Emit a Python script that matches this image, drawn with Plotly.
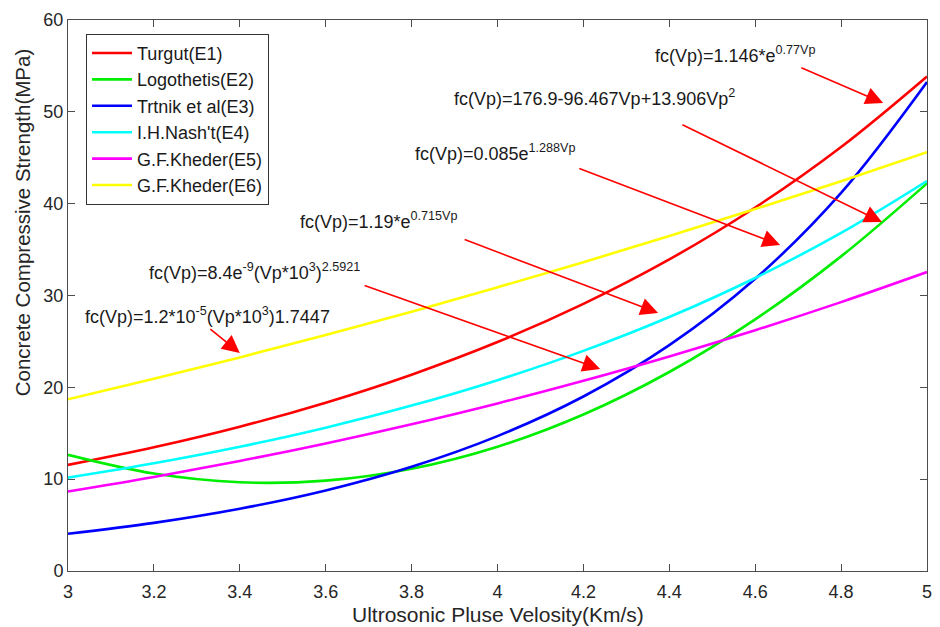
import plotly.graph_objects as go

# Ultrasonic pulse velocity (km/s)
vp = [3.0, 3.2, 3.4, 3.6, 3.8, 4.0, 4.2, 4.4, 4.6, 4.8, 5.0]

# Compressive strength (MPa)
turgut_e1 = [11.55, 13.47, 15.71, 18.33, 21.38, 24.93, 29.09, 33.93, 39.58, 46.17, 53.85]
logothetis_e2 = [12.65, 10.61, 9.66, 9.84, 11.13, 13.53, 17.04, 21.67, 27.40, 34.26, 42.21]
trtnik_e3 = [4.05, 5.24, 6.78, 8.77, 11.35, 14.69, 19.00, 24.59, 31.82, 41.17, 53.24]
nasht_e4 = [10.17, 11.73, 13.53, 15.61, 18.01, 20.78, 23.97, 27.66, 31.91, 36.82, 42.47]
kheder_e5 = [8.66, 10.24, 11.98, 13.89, 15.98, 18.25, 20.72, 23.37, 26.22, 29.28, 32.55]
kheder_e6 = [18.70, 20.93, 23.26, 25.70, 28.24, 30.89, 33.63, 36.47, 39.41, 42.45, 45.60]

series_names = ["Turgut(E1)", "Logothetis(E2)", "Trtnik et al(E3)",
                "I.H.Nash't(E4)", "G.F.Kheder(E5)", "G.F.Kheder(E6)"]
series_values = [turgut_e1, logothetis_e2, trtnik_e3, nasht_e4, kheder_e5, kheder_e6]
series_colors = ["#ff0000", "#00ee00", "#0000ff", "#00ffff", "#ff00ff", "#ffff00"]

x_ticks = [3, 3.2, 3.4, 3.6, 3.8, 4, 4.2, 4.4, 4.6, 4.8, 5]
x_tick_labels = ["3", "3.2", "3.4", "3.6", "3.8", "4", "4.2", "4.4", "4.6", "4.8", "5"]
y_ticks = [0, 10, 20, 30, 40, 50, 60]

x_title = "Ultrosonic Pluse Velosity(Km/s)"
y_title = "Concrete Compressive Strength(MPa)"

# Equation labels: (text, text_x, text_y, arrow_tail_x, arrow_tail_y, arrow_head_x, arrow_head_y)
equations = [
    ("fc(Vp)=1.146*e<sup>0.77Vp</sup>", 4.361, 56.2, 4.704, 54.88, 4.898, 50.96),
    ("fc(Vp)=176.9-96.467Vp+13.906Vp<sup>2</sup>", 3.894, 51.6, 4.427, 48.68, 4.895, 38.0),
    ("fc(Vp)=0.085e<sup>1.288Vp</sup>", 3.803, 45.6, 4.187, 43.89, 4.658, 35.5),
    ("fc(Vp)=1.19*e<sup>0.715Vp</sup>", 3.535, 38.2, 3.920, 36.15, 4.374, 28.1),
    ("fc(Vp)=8.4e<sup>-9</sup>(Vp*10<sup>3</sup>)<sup>2.5921</sup>", 3.184, 32.6, 3.687, 31.14, 4.239, 22.0),
    ("fc(Vp)=1.2*10<sup>-5</sup>(Vp*10<sup>3</sup>)1.7447", 3.035, 27.8, 3.328, 26.46, 3.400, 23.74),
]

FONT = "Liberation Sans, Arial, sans-serif"
AXIS_COLOR = "#4d4d4d"

fig = go.Figure()
for name, vals, col in zip(series_names, series_values, series_colors):
    fig.add_trace(go.Scatter(
        x=vp, y=vals, mode="lines", name=name,
        line=dict(color=col, width=2.6, shape="spline", smoothing=1.0),
    ))

annotations = []
for text, tx, ty, ax_, ay_, hx, hy in equations:
    annotations.append(dict(
        x=tx, y=ty, xref="x", yref="y", text=text, showarrow=False,
        xanchor="left", yanchor="middle",
        font=dict(family=FONT, size=18, color="#1a1a1a"),
    ))
    annotations.append(dict(
        x=hx, y=hy, ax=ax_, ay=ay_, xref="x", yref="y", axref="x", ayref="y",
        text="", showarrow=True, arrowhead=2, arrowsize=2.2, arrowwidth=1.6,
        arrowcolor="#ff0000",
    ))

# axis titles (placed as in the reference)
annotations.append(dict(
    x=-0.0535, y=0.633, xref="paper", yref="paper", text=y_title,
    showarrow=False, textangle=-90, xanchor="center", yanchor="middle",
    font=dict(family=FONT, size=20.5, color="#262626"),
))
annotations.append(dict(
    x=0.5, y=-0.079, xref="paper", yref="paper", text=x_title,
    showarrow=False, xanchor="center", yanchor="middle",
    font=dict(family=FONT, size=21, color="#262626"),
))

axis_common = dict(
    showline=True, linecolor=AXIS_COLOR, linewidth=1, mirror="ticks",
    ticks="inside", ticklen=7, tickcolor=AXIS_COLOR, tickwidth=1,
    showgrid=False, zeroline=False, automargin=False,
    tickfont=dict(family=FONT, size=18, color="#262626"),
)

fig.update_layout(
    width=940, height=627,
    margin=dict(l=68, r=13, t=20, b=56),
    paper_bgcolor="white", plot_bgcolor="white",
    font=dict(family=FONT, size=18, color="#262626"),
    xaxis=dict(range=[3, 5], tickvals=x_ticks, ticktext=x_tick_labels,
               ticklabelstandoff=4, **axis_common),
    yaxis=dict(range=[0, 60], tickvals=y_ticks, **axis_common),
    legend=dict(x=0.021, y=0.975, xanchor="left", yanchor="top",
                bgcolor="white", bordercolor="#333333", borderwidth=1,
                font=dict(family=FONT, size=18, color="#1a1a1a"),
                tracegroupgap=0, itemwidth=40),
    annotations=annotations,
    showlegend=True,
)

fig.write_html("out.html")
